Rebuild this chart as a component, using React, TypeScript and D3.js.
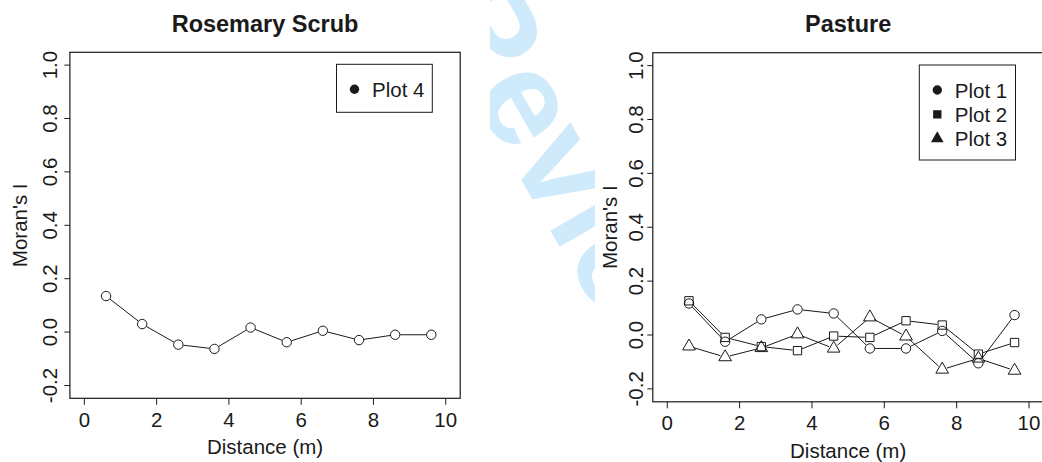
import React from "react";
import * as d3 from "d3";

// Lag distance classes (m)
const distances = [0.6, 1.6, 2.6, 3.6, 4.6, 5.6, 6.6, 7.6, 8.6, 9.6];

// Moran's I correlogram values
const scrubPlot4 = [0.135, 0.03, -0.047, -0.063, 0.017, -0.038, 0.005, -0.03, -0.01, -0.01];
const pasturePlot1 = [0.117, -0.025, 0.058, 0.095, 0.08, -0.05, -0.05, 0.015, -0.105, 0.074];
const pasturePlot2 = [0.127, -0.009, -0.043, -0.058, -0.004, -0.009, 0.053, 0.037, -0.071, -0.028];
const pasturePlot3 = [-0.042, -0.082, -0.048, 0.003, -0.05, 0.066, -0.005, -0.128, -0.087, -0.132];

const xTicks = [0, 2, 4, 6, 8, 10];
const yTicks = [-0.2, 0.0, 0.2, 0.4, 0.6, 0.8, 1.0];

const xDomain: [number, number] = [-0.4, 10.4];
const yDomain: [number, number] = [-0.248, 1.048];

type Shape = "circle" | "square" | "triangle";

const FONT = "'Liberation Sans', Arial, Helvetica, sans-serif";
const INK = "#1a1a1a";

interface Layout {
  left: number;
  right: number;
  top: number;
  bottom: number;
  yLabelGap: number;
  yTitleX: number;
  legend: { x: number; y: number; w: number; h: number };
}

const R = 4.7; // plotting symbol radius

function symbolPath(shape: Shape, cx: number, cy: number): string {
  if (shape === "circle") {
    return `M${cx - R},${cy}a${R},${R} 0 1,0 ${2 * R},0a${R},${R} 0 1,0 ${-2 * R},0Z`;
  }
  if (shape === "square") {
    const h = R * 0.886;
    return `M${cx - h},${cy - h}h${2 * h}v${2 * h}h${-2 * h}Z`;
  }
  const r = 1.555 * R;
  const xc = 1.347 * R;
  const yc = 0.778 * R;
  return `M${cx},${cy - r}L${cx + xc},${cy + yc}L${cx - xc},${cy + yc}Z`;
}

interface Series {
  name: string;
  values: number[];
  shape: Shape;
}

const fmtY = (t: number) => t.toFixed(1);

function Panel({ title, series, layout, clipId }: { title: string; series: Series[]; layout: Layout; clipId: string }) {
  const x = d3.scaleLinear().domain(xDomain).range([layout.left, layout.right]);
  const y = d3.scaleLinear().domain(yDomain).range([layout.bottom, layout.top]);
  const cxMid = (layout.left + layout.right) / 2;
  const cyMid = (layout.top + layout.bottom) / 2;
  const gap = 5;

  return (
    <g fontFamily={FONT} fill={INK}>
      <defs>
        <clipPath id={clipId}>
          <rect x={layout.left} y={layout.top} width={layout.right - layout.left} height={layout.bottom - layout.top} />
        </clipPath>
      </defs>
      <text x={cxMid} y={32} textAnchor="middle" fontSize={23.5} fontWeight="bold">
        {title}
      </text>

      {/* plot frame */}
      <rect
        x={layout.left}
        y={layout.top}
        width={layout.right - layout.left}
        height={layout.bottom - layout.top}
        fill="none"
        stroke={INK}
        strokeWidth={1.2}
      />

      {/* x axis */}
      {xTicks.map((t) => (
        <g key={"x" + t}>
          <line x1={x(t)} x2={x(t)} y1={layout.bottom} y2={layout.bottom + 6.5} stroke={INK} strokeWidth={1} />
          <text x={x(t)} y={layout.bottom + 28.4} textAnchor="middle" fontSize={20.5}>
            {String(t)}
          </text>
        </g>
      ))}
      <text x={cxMid} y={layout.bottom + 56} textAnchor="middle" fontSize={20.5}>
        Distance (m)
      </text>

      {/* y axis */}
      {yTicks.map((t) => (
        <g key={"y" + t}>
          <line x1={layout.left - 5.5} x2={layout.left} y1={y(t)} y2={y(t)} stroke={INK} strokeWidth={1} />
          <text
            transform={`translate(${layout.left - layout.yLabelGap},${y(t)}) rotate(-90)`}
            textAnchor="middle"
            fontSize={20.5}
          >
            {fmtY(t)}
          </text>
        </g>
      ))}
      <text transform={`translate(${layout.yTitleX},${cyMid}) rotate(-90)`} textAnchor="middle" fontSize={20.5}>
        Moran's I
      </text>

      {/* correlogram lines (gapped at each symbol) and open symbols */}
      <g clipPath={`url(#${clipId})`}>
        {series.map((s) => {
          const pts = s.values.map((v, i) => [x(distances[i]), y(v)] as [number, number]);
          const segs = d3.pairs(pts).map(([a, b], i) => {
            const dx = b[0] - a[0];
            const dy = b[1] - a[1];
            const len = Math.hypot(dx, dy);
            if (len <= 2 * gap) return null;
            const ux = dx / len;
            const uy = dy / len;
            return (
              <line
                key={i}
                x1={a[0] + ux * gap}
                y1={a[1] + uy * gap}
                x2={b[0] - ux * gap}
                y2={b[1] - uy * gap}
                stroke={INK}
                strokeWidth={1}
              />
            );
          });
          return (
            <g key={s.name}>
              {segs}
              {pts.map((p, i) => (
                <path key={i} d={symbolPath(s.shape, p[0], p[1])} fill="none" stroke={INK} strokeWidth={1} />
              ))}
            </g>
          );
        })}
      </g>

      {/* legend */}
      <rect
        x={layout.legend.x}
        y={layout.legend.y}
        width={layout.legend.w}
        height={layout.legend.h}
        fill="white"
        stroke={INK}
        strokeWidth={1}
      />
      {series.map((s, i) => {
        const rowY = layout.legend.y + 25.5 + i * 24.3;
        return (
          <g key={"lg" + s.name}>
            <path d={symbolPath(s.shape, layout.legend.x + 18, rowY - 0.5)} fill={INK} stroke="none" />
            <text x={layout.legend.x + 35.5} y={rowY + 7} fontSize={20.5}>
              {s.name}
            </text>
          </g>
        );
      })}
    </g>
  );
}

const scrubSeries: Series[] = [{ name: "Plot 4", values: scrubPlot4, shape: "circle" }];
const pastureSeries: Series[] = [
  { name: "Plot 1", values: pasturePlot1, shape: "circle" },
  { name: "Plot 2", values: pasturePlot2, shape: "square" },
  { name: "Plot 3", values: pasturePlot3, shape: "triangle" },
];

const leftLayout: Layout = {
  left: 69.9,
  right: 460.2,
  top: 52.3,
  bottom: 398.3,
  yLabelGap: 12.8,
  yTitleX: 26.7,
  legend: { x: 336.5, y: 64.3, w: 95.8, h: 48 },
};

const rightLayout: Layout = {
  left: 652.8,
  right: 1043.5,
  top: 52.7,
  bottom: 401.8,
  yLabelGap: 10,
  yTitleX: 617,
  legend: { x: 919.3, y: 65, w: 96.2, h: 95 },
};

export default function App() {
  return (
    <svg
      width={1042}
      height={462}
      viewBox="0 0 1042 462"
      style={{ position: "fixed", left: 0, top: 0, background: "white" }}
    >
      <rect x={0} y={0} width={1042} height={462} fill="white" />
      <defs>
        <clipPath id="wm-clip">
          <rect x={490} y={0} width={105} height={462} />
        </clipPath>
      </defs>
      <g clipPath="url(#wm-clip)">
        <text
          transform="translate(422,8) rotate(60)"
          fontFamily={FONT}
          fontWeight="bold"
          fontSize={135}
          fill="#cfebfb"
        >
          Review
        </text>
      </g>
      <Panel title="Rosemary Scrub" series={scrubSeries} layout={leftLayout} clipId="clip-left" />
      <Panel title="Pasture" series={pastureSeries} layout={rightLayout} clipId="clip-right" />
    </svg>
  );
}
